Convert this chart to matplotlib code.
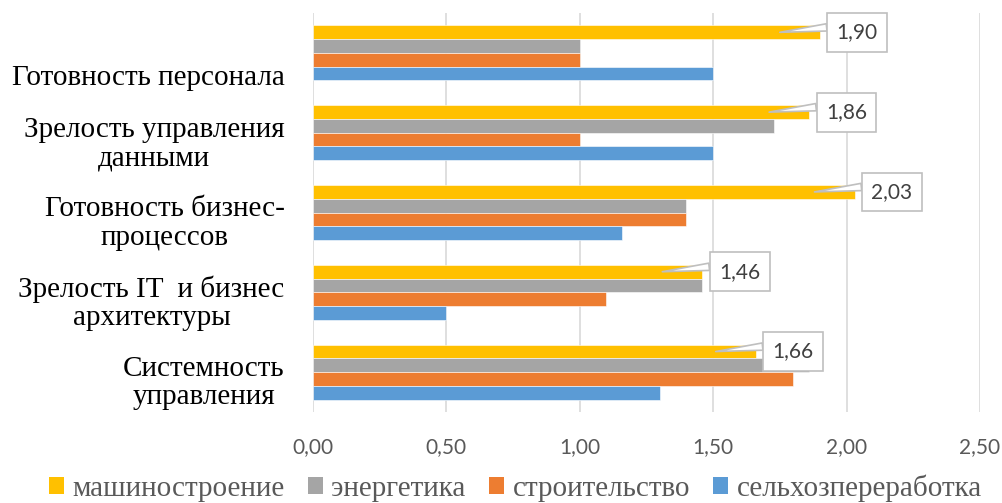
import matplotlib
matplotlib.use("Agg")
import matplotlib.pyplot as plt
from matplotlib.patches import Patch
from matplotlib.transforms import ScaledTranslation
import numpy as np

categories = ["\nГотовность персонала",
              "Зрелость управления\nданными",
              "Готовность бизнес-\nпроцессов",
              "Зрелость IT  и бизнес\nархитектуры",
              "Системность\nуправления"]
series_names = ["машиностроение", "энергетика", "строительство", "сельхозпереработка"]
mash = [1.90, 1.86, 2.03, 1.46, 1.66]
energ = [1.00, 1.73, 1.40, 1.46, 1.86]
stroit = [1.00, 1.00, 1.40, 1.10, 1.80]
selhoz = [1.50, 1.50, 1.16, 0.50, 1.30]
series = [mash, energ, stroit, selhoz]
colors = ["#FFC000", "#A5A5A5", "#ED7D31", "#5B9BD5"]
xticks = [0.0, 0.5, 1.0, 1.5, 2.0, 2.5]
xtick_labels = ["0,00", "0,50", "1,00", "1,50", "2,00", "2,50"]

serif = "Liberation Serif"
sans = "Lato"

fig = plt.figure(figsize=(10.03, 5.03), dpi=100)
ax = fig.add_axes([312.5/1003, 1-412/503, (980-312.5)/1003, (412-13)/503])

n = len(series)
h = 0.6875 / n
y = np.arange(len(categories))
for i, (vals, c) in enumerate(zip(series, colors)):
    ax.barh(y + (i - (n-1)/2) * h, vals, height=h, color=c,
            edgecolor="white", linewidth=0.4, zorder=3)

ax.set_xlim(0, 2.5)
ax.set_ylim(len(categories) - 0.5, -0.5)
ax.set_xticks(xticks)
ax.set_xticklabels(xtick_labels, fontfamily=sans, fontsize=15, color="#595959")
ax.set_yticks(y)
ax.set_yticklabels(categories, fontfamily=serif, fontsize=21, color="black",
                   multialignment="center", linespacing=1.12)
ax.tick_params(axis="both", length=0)
ax.tick_params(axis="x", pad=18)
ax.tick_params(axis="y", pad=20)
off = ScaledTranslation(0, -7/100, fig.dpi_scale_trans)
for lab in ax.get_yticklabels():
    lab.set_transform(lab.get_transform() + off)

for s in ax.spines.values():
    s.set_visible(False)
ax.grid(axis="x", color="#d9d9d9", linewidth=1.2, zorder=0)
ax.set_axisbelow(True)

# callout labels for машиностроение
for i, v in enumerate(mash):
    yy = y[i] + (0 - (n-1)/2) * h
    ax.annotate(f"{v:.2f}".replace(".", ","), xy=(v - 0.15, yy), xytext=(v + 0.14, yy),
                textcoords="data", ha="center", va="center",
                fontfamily=sans, fontsize=15, color="#404040", zorder=6,
                bbox=dict(boxstyle="square,pad=0.45", fc="white", ec="#bfbfbf", lw=1.2),
                arrowprops=dict(arrowstyle="wedge,tail_width=0.35,shrink_factor=0.5",
                                fc="white", ec="#bfbfbf", lw=1.2,
                                relpos=(0.0, 0.8), shrinkA=0, shrinkB=0))

handles = [Patch(facecolor=c, edgecolor="none") for c in colors]
fig.legend(handles, series_names, loc="center", bbox_to_anchor=(0.514, 0.030),
           bbox_transform=fig.transFigure, ncol=4, frameon=False,
           prop=dict(family=serif, size=21), labelcolor="#595959",
           handlelength=0.5, handleheight=0.5, handletextpad=0.3, columnspacing=0.8,
           borderaxespad=0, borderpad=0)

fig.savefig("out.png", dpi=100)
